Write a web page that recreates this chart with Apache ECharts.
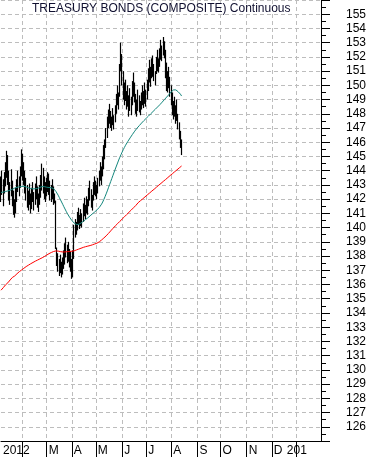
<!DOCTYPE html>
<html>
<head>
<meta charset="utf-8">
<script src="https://cdn.jsdelivr.net/npm/echarts@6/dist/echarts.min.js"></script>
<style>
html,body{margin:0;padding:0;background:#fff;}
#c{width:371px;height:457px;}
</style>
</head>
<body>
<div id="c"></div>
<script>
// Daily high / low of the price bars (trading days from 5 Jan 2012)
const hi = [143.6,144.0,143.4,143.9,144.6,145.4,145.1,144.0,143.2,144.1,
143.3,142.6,142.0,142.8,143.4,144.0,143.6,144.3,145.5,145.2,
144.6,144.0,143.5,143.0,142.6,143.1,142.4,142.8,143.2,142.5,
143.1,143.6,142.9,142.4,143.0,143.7,144.5,144.2,143.6,143.2,
143.5,143.9,143.8,143.3,143.0,143.4,142.9,142.4,141.9,138.6,
138.2,137.8,138.1,137.6,137.9,138.4,138.9,139.3,138.8,139.0,
138.5,138.3,137.8,138.4,140.2,140.6,140.4,141.1,141.4,140.9,
141.3,141.0,141.7,142.1,141.6,142.2,142.0,142.8,143.3,142.7,
142.3,143.2,143.6,143.3,143.0,143.5,144.0,144.6,144.3,145.0,
145.8,146.2,147.0,147.8,148.3,148.7,148.2,147.8,148.4,147.9,
148.6,149.4,150.0,149.5,151.5,153.0,152.2,151.0,150.2,150.4,
149.6,150.0,149.3,149.8,149.2,150.3,150.9,150.2,149.4,149.0,
149.7,149.3,148.9,149.5,150.0,149.6,150.2,149.7,150.4,151.2,
151.8,151.3,151.9,152.1,151.5,151.0,152.0,152.5,151.9,152.6,
153.2,152.8,153.4,153.1,152.5,151.6,151.0,151.3,150.6,150.0,
149.5,148.9,149.2,148.6,149.0,148.0,147.4,146.8,146.2];
const lo = [141.8,142.3,141.5,142.4,142.9,143.5,143.0,141.9,141.6,142.2,
141.5,140.9,140.7,141.0,141.8,142.5,142.2,142.8,143.6,143.3,
143.0,142.4,141.9,141.4,141.2,141.6,141.0,141.3,141.8,141.2,
141.6,142.0,141.4,141.1,141.6,142.1,142.6,142.4,142.0,141.8,
142.2,142.5,142.3,141.9,141.8,142.0,141.6,141.7,138.5,137.3,
136.9,136.6,136.8,136.5,136.7,137.1,137.4,137.9,137.5,137.6,
137.2,136.9,136.4,136.5,137.8,139.3,139.5,139.8,140.2,139.9,
140.1,140.0,140.4,140.8,140.6,141.0,140.9,141.5,141.9,141.4,
141.2,141.9,142.3,142.2,142.0,142.4,142.9,143.3,143.0,143.6,
144.1,144.8,145.6,146.3,147.0,147.3,147.0,146.8,147.2,146.9,
147.4,148.0,148.6,148.3,149.2,151.0,150.0,149.0,148.6,148.9,
148.3,148.5,147.8,148.2,147.9,148.6,149.2,148.8,148.0,147.8,
148.2,148.1,147.9,148.3,148.6,148.4,148.7,148.5,149.0,149.6,
150.2,149.9,150.5,150.6,150.3,150.0,150.8,151.0,150.9,151.3,
151.8,151.7,152.1,151.9,150.5,149.6,149.5,149.8,149.2,148.6,
147.9,147.6,147.8,147.3,147.5,146.9,146.2,145.6,145.1];
// Short moving average (teal)
const maShort = [142.47,142.49,142.50,142.52,142.54,142.56,142.58,142.60,142.63,142.66,
142.70,142.74,142.78,142.81,142.83,142.85,142.87,142.88,142.89,142.90,
142.90,142.88,142.86,142.84,142.80,142.77,142.75,142.73,142.72,142.72,
142.73,142.74,142.76,142.79,142.82,142.86,142.89,142.90,142.88,142.86,
142.84,142.83,142.82,142.81,142.80,142.78,142.74,142.66,142.55,142.42,
142.28,142.12,141.96,141.80,141.64,141.47,141.31,141.15,141.00,140.86,
140.73,140.61,140.50,140.40,140.32,140.26,140.22,140.21,140.23,140.27,
140.32,140.38,140.44,140.50,140.57,140.63,140.69,140.76,140.83,140.90,
140.97,141.03,141.10,141.17,141.25,141.33,141.42,141.53,141.65,141.80,
141.98,142.17,142.37,142.58,142.80,143.02,143.24,143.46,143.68,143.90,
144.12,144.33,144.54,144.75,144.95,145.13,145.31,145.48,145.64,145.79,
145.93,146.06,146.19,146.31,146.43,146.55,146.67,146.78,146.89,146.99,
147.08,147.17,147.26,147.35,147.44,147.52,147.60,147.68,147.76,147.84,
147.92,148.00,148.08,148.16,148.24,148.32,148.40,148.48,148.56,148.64,
148.73,148.82,148.91,149.00,149.09,149.18,149.27,149.36,149.45,149.55,
149.62,149.68,149.70,149.68,149.62,149.55,149.47,149.38,149.25];
// Long moving average (red)
const maLong = [135.60,135.70,135.78,135.88,135.98,136.05,136.12,136.22,136.32,136.42,
136.50,136.55,136.60,136.68,136.76,136.84,136.90,136.96,137.02,137.08,
137.14,137.20,137.26,137.30,137.36,137.42,137.46,137.50,137.55,137.60,
137.64,137.68,137.72,137.76,137.80,137.84,137.88,137.92,137.97,138.02,
138.07,138.12,138.17,138.21,138.25,138.29,138.32,138.35,138.36,138.36,
138.35,138.33,138.31,138.30,138.29,138.29,138.29,138.30,138.31,138.32,
138.32,138.33,138.34,138.35,138.37,138.40,138.43,138.46,138.49,138.52,
138.55,138.58,138.61,138.64,138.66,138.68,138.70,138.72,138.74,138.76,
138.79,138.82,138.85,138.88,138.91,138.95,139.00,139.06,139.13,139.20,
139.27,139.34,139.42,139.50,139.59,139.68,139.77,139.86,139.95,140.04,
140.12,140.20,140.28,140.36,140.44,140.52,140.60,140.68,140.76,140.84,
140.92,141.00,141.08,141.16,141.24,141.32,141.40,141.48,141.56,141.64,
141.75,141.82,141.89,141.95,142.02,142.09,142.16,142.23,142.30,142.36,
142.43,142.50,142.57,142.64,142.70,142.77,142.84,142.91,142.98,143.04,
143.11,143.18,143.25,143.32,143.38,143.45,143.52,143.59,143.66,143.72,
143.79,143.86,143.93,144.00,144.06,144.13,144.20,144.27,144.33];
const monthLetters = ['J','F','M','A','M','J','J','A','S','O','N','D'];
const titleText = 'TREASURY BONDS (COMPOSITE) Continuous';

// weekday calendar for the x axis: 5 Jan 2012 .. 31 Jan 2013
const days = [];
{
  const d = new Date(2012, 0, 5);
  const end = new Date(2013, 0, 31);
  while (d <= end) {
    const w = d.getDay();
    if (w !== 0 && w !== 6) days.push(new Date(d.getTime()));
    d.setDate(d.getDate() + 1);
  }
}
const isMonthStart = days.map((d, i) => i > 0 && d.getMonth() !== days[i - 1].getMonth());
const showLabel = days.map((d, i) => i === 0 || (isMonthStart[i] && !(d.getFullYear() === 2012 && d.getMonth() === 1)));
const catData = days.map((d, i) => {
  const v = d.getFullYear() + '-' + (d.getMonth() + 1) + '-' + d.getDate();
  if (d.getFullYear() === 2013 && isMonthStart[i]) {
    return { value: v, textStyle: { width: 23, overflow: 'truncate', ellipsis: '' } };
  }
  return v;
});

const candle = hi.map((h, i) => [lo[i], h, lo[i], h]);

const chart = echarts.init(document.getElementById('c'), null, { renderer: 'canvas' });
const font = 'Liberation Sans, Arial, sans-serif';
chart.setOption({
  animation: false,
  backgroundColor: '#fff',
  title: {
    text: titleText,
    left: 32, top: 3, padding: 0,
    textStyle: { fontSize: 12, fontWeight: 'normal', color: '#101030', fontFamily: font }
  },
  grid: { left: 0, right: 50, top: 0, bottom: 16, containLabel: false },
  xAxis: {
    type: 'category',
    data: catData,
    boundaryGap: false,
    axisLine: { show: true, lineStyle: { color: '#000', width: 1 } },
    axisTick: {
      show: true, length: 16, interval: (i) => isMonthStart[i],
      lineStyle: { color: '#000', width: 1 }
    },
    splitLine: {
      show: true, interval: (i) => isMonthStart[i],
      lineStyle: { color: '#bdbdbd', type: [4, 3], width: 1 }
    },
    axisLabel: {
      show: true, interval: (i) => showLabel[i],
      align: 'left', margin: 4, padding: [0, 0, 0, 2],
      fontSize: 12, color: '#000', fontFamily: font,
      hideOverlap: false,
      formatter: (val, i) => {
        const d = days[i];
        return d.getMonth() === 0 ? String(d.getFullYear()) : monthLetters[d.getMonth()];
      }
    }
  },
  yAxis: {
    type: 'value',
    position: 'right',
    min: 125, max: 156, interval: 1,
    axisLine: { show: true, lineStyle: { color: '#000', width: 1 } },
    axisTick: { show: true, length: 9, lineStyle: { color: '#000' } },
    minorTick: { show: true, splitNumber: 2, length: 5, lineStyle: { color: '#000' } },
    splitLine: { show: true, lineStyle: { color: '#bdbdbd', type: [4, 3], width: 1 } },
    axisLabel: {
      margin: 25, fontSize: 12, color: '#000', fontFamily: font,
      showMinLabel: false, showMaxLabel: false, padding: [5, 0, 0, 0]
    }
  },
  series: [
    {
      type: 'candlestick',
      data: candle,
      barWidth: 1,
      itemStyle: { color: '#000', color0: '#000', borderColor: '#000', borderColor0: '#000', borderWidth: 1.2 },
      z: 3
    },
    {
      type: 'line', data: maShort, symbol: 'none', smooth: false,
      lineStyle: { color: '#14877d', width: 1 }, z: 4
    },
    {
      type: 'line', data: maLong, symbol: 'none', smooth: false,
      lineStyle: { color: '#ff0000', width: 1 }, z: 4
    }
  ]
});
</script>
</body>
</html>
